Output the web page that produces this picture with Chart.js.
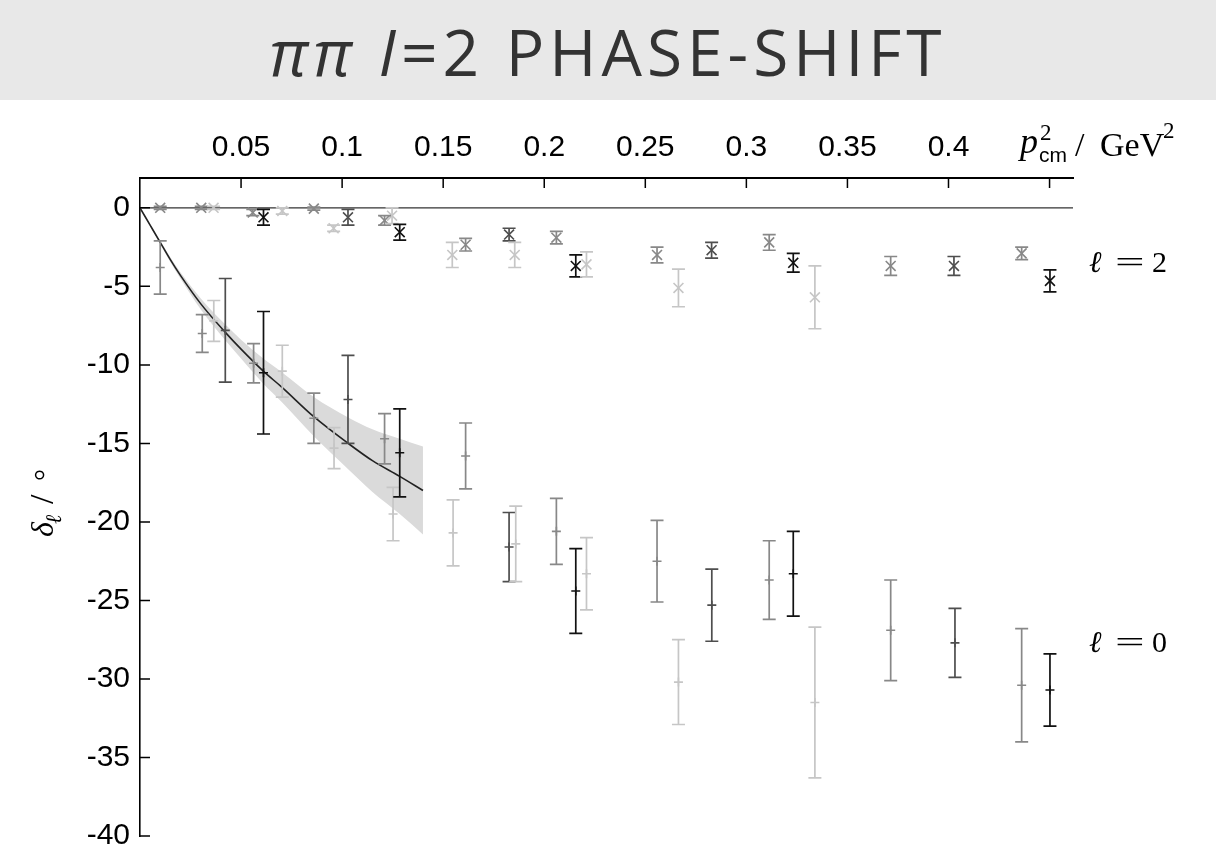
<!DOCTYPE html>
<html lang="en">
<head>
<meta charset="UTF-8">
<title>pi pi I=2 phase-shift</title>
<script src="https://cdn.jsdelivr.net/npm/chart.js"></script>
<style>
  html, body { margin: 0; padding: 0; background: #fff; }
  #page { position: relative; width: 1216px; height: 851px; overflow: hidden; }
  #title {
    position: absolute; left: 0; top: 0; width: 1216px; height: 100px;
    background: #e8e8e8; color: #333;
    font-family: 'Open Sans', sans-serif; font-size: 64px; letter-spacing: 5px;
    text-align: center; line-height: 104px; white-space: nowrap;
  }
  #wrap { position: absolute; left: 0; top: 100px; width: 1216px; height: 751px; }
</style>
</head>
<body>
<div id="page">
  <div id="title"><i>ππ</i> <i>I</i>=2 PHASE-SHIFT</div>
  <div id="wrap"><canvas id="phaseChart"></canvas></div>
</div>

<script>
// shades used for the different lattice ensembles
const shadeColors = ['#111111', '#4e4e4e', '#888888', '#c6c6c6'];

// l = 0 points: p_cm^2, delta, error, shade index
const l0P = [0.0100, 0.0308, 0.0365, 0.0422, 0.0562, 0.0611, 0.0704, 0.0860, 0.0960, 0.1029,
             0.1210, 0.1252, 0.1285, 0.1549, 0.1611, 0.1826, 0.1859, 0.2060, 0.2156, 0.2209,
             0.2558, 0.2664, 0.2829, 0.3113, 0.3232, 0.3339, 0.3714, 0.4032, 0.4362, 0.4502];
const l0D = [-3.8, -8.0, -7.2, -7.8, -9.9, -10.5, -10.4, -13.4, -15.3, -12.2,
             -14.7, -19.5, -15.6, -20.7, -15.8, -21.6, -21.4, -20.6, -24.4, -23.3,
             -22.5, -30.2, -25.3, -23.7, -23.3, -31.5, -26.9, -27.7, -30.4, -30.7];
const l0E = [1.7, 1.2, 1.3, 3.3, 1.25, 3.9, 1.65, 1.6, 1.3, 2.8,
             1.6, 1.7, 2.8, 2.1, 2.1, 2.2, 2.4, 2.1, 2.7, 2.3,
             2.6, 2.7, 2.3, 2.5, 2.7, 4.8, 3.2, 2.2, 3.6, 2.3];
const l0Shade = [2, 2, 3, 1, 2, 0, 3, 2, 3, 1,
                 2, 3, 0, 3, 2, 1, 3, 2, 0, 3,
                 2, 3, 1, 2, 0, 3, 2, 1, 2, 0];

// l = 2 points
const l2P = [0.0100, 0.0303, 0.0364, 0.0558, 0.0611, 0.0704, 0.0860, 0.0958, 0.1029, 0.1210,
             0.1247, 0.1285, 0.1545, 0.1611, 0.1826, 0.1854, 0.2060, 0.2156, 0.2209, 0.2558,
             0.2664, 0.2828, 0.3113, 0.3232, 0.3339, 0.3714, 0.4027, 0.4362, 0.4502];
const l2D = [0.0, 0.0, 0.0, -0.3, -0.6, -0.2, -0.05, -1.3, -0.6, -0.8,
             -0.5, -1.55, -3.0, -2.35, -1.7, -3.0, -1.9, -3.7, -3.6, -3.0,
             -5.1, -2.7, -2.2, -3.5, -5.7, -3.7, -3.7, -2.9, -4.65];
const l2E = [0.1, 0.1, 0.1, 0.2, 0.5, 0.2, 0.1, 0.2, 0.5, 0.3,
             0.5, 0.5, 0.8, 0.4, 0.4, 0.8, 0.4, 0.7, 0.8, 0.5,
             1.2, 0.5, 0.5, 0.6, 2.0, 0.6, 0.6, 0.4, 0.7];
const l2Shade = [2, 2, 3, 2, 0, 3, 2, 3, 1, 2,
                 3, 0, 3, 2, 1, 3, 2, 0, 3, 2,
                 3, 1, 2, 0, 3, 2, 1, 2, 0];

// fitted l = 0 curve and its error band
const fitP   = [0, 0.005, 0.01, 0.015, 0.02, 0.03, 0.042, 0.05, 0.061, 0.07, 0.086, 0.103, 0.115, 0.1285, 0.14];
const fitD   = [0, -1.1, -2.2, -3.3, -4.3, -6.1, -7.9, -9.0, -10.4, -11.4, -13.3, -15.0, -16.1, -17.1, -18.0];
const bandHi = [0, -1.05, -2.1, -3.15, -4.1, -5.75, -7.4, -8.4, -9.6, -10.45, -12.05, -13.35, -14.1, -14.7, -15.2];
const bandLo = [0, -1.15, -2.3, -3.45, -4.5, -6.45, -8.4, -9.6, -11.2, -12.35, -14.55, -16.65, -18.1, -19.5, -20.8];

// axes
const xTickValues = [0.05, 0.1, 0.15, 0.2, 0.25, 0.3, 0.35, 0.4, 0.45];
const xTickLabels = ['0.05', '0.1', '0.15', '0.2', '0.25', '0.3', '0.35', '0.4', ''];
const yTickValues = [0, -5, -10, -15, -20, -25, -30, -35, -40];
const yTickLabels = ['0', '-5', '-10', '-15', '-20', '-25', '-30', '-35', '-40'];
const xMin = 0, xMax = 0.4616, yMin = -40, yMax = 1.9;

function pts(xs, ys) {
    return xs.map((x, i) => ({ x: x, y: ys[i] }));
}

// vertical error bars with caps, drawn right after their dataset
const errorBarPlugin = {
    id: 'errorBars',
    afterDatasetDraw(chart, args) {
        const ds = chart.data.datasets[args.index];
        if (!ds.errors) return;
        const ctx = chart.ctx;
        const yScale = chart.scales.y;
        ctx.save();
        ctx.lineWidth = 1.7;
        args.meta.data.forEach((pt, i) => {
            const v = ds.data[i].y;
            const top = yScale.getPixelForValue(v + ds.errors[i]);
            const bot = yScale.getPixelForValue(v - ds.errors[i]);
            ctx.strokeStyle = ds.pointBorderColor[i];
            ctx.beginPath();
            ctx.moveTo(pt.x, top); ctx.lineTo(pt.x, bot);
            ctx.moveTo(pt.x - 6.5, top); ctx.lineTo(pt.x + 6.5, top);
            ctx.moveTo(pt.x - 6.5, bot); ctx.lineTo(pt.x + 6.5, bot);
            ctx.stroke();
        });
        ctx.restore();
    }
};

// zero line, inward ticks and the LaTeX-like labels
const decorPlugin = {
    id: 'decor',
    beforeDatasetsDraw(chart) {
        const ctx = chart.ctx, a = chart.chartArea;
        const y0 = chart.scales.y.getPixelForValue(0);
        ctx.save();
        ctx.strokeStyle = '#333';
        ctx.lineWidth = 1.2;
        ctx.beginPath();
        ctx.moveTo(a.left, y0); ctx.lineTo(a.right, y0);
        ctx.stroke();
        ctx.restore();
    },
    afterDraw(chart) {
        const ctx = chart.ctx, a = chart.chartArea;
        const xs = chart.scales.x, ys = chart.scales.y;
        ctx.save();
        ctx.strokeStyle = '#000';
        ctx.lineWidth = 1.5;
        ctx.beginPath();
        xTickValues.forEach(v => {
            const px = xs.getPixelForValue(v);
            ctx.moveTo(px, a.top); ctx.lineTo(px, a.top + 10);
        });
        yTickValues.forEach(v => {
            const py = ys.getPixelForValue(v);
            ctx.moveTo(a.left, py); ctx.lineTo(a.left + 10, py);
        });
        ctx.stroke();

        ctx.fillStyle = '#000';
        ctx.textBaseline = 'alphabetic';
        ctx.textAlign = 'left';

        // x axis title: p_cm^2 / GeV^2
        ctx.font = 'italic 36px "Liberation Serif", serif';
        ctx.fillText('p', 1020, 53);
        ctx.font = '23px "Liberation Serif", serif';
        ctx.fillText('2', 1040, 40);
        ctx.font = '21px "Liberation Sans", sans-serif';
        ctx.fillText('cm', 1039, 62);
        ctx.font = '34px "Liberation Serif", serif';
        ctx.fillText('/', 1075, 56);
        ctx.fillText('GeV', 1100, 56);
        ctx.font = '23px "Liberation Serif", serif';
        ctx.fillText('2', 1163, 38);

        // l = 2 and l = 0 labels
        [['2', 172], ['0', 552]].forEach(([d, by]) => {
            ctx.font = 'italic 30px "DejaVu Serif", serif';
            ctx.fillText('ℓ', 1089, by);
            ctx.font = '30px "Liberation Serif", serif';
            ctx.fillText(d, 1152, by);
            ctx.save();
            ctx.translate(1115, by);
            ctx.scale(1.75, 1);
            ctx.fillText('=', 0, 0);
            ctx.restore();
        });

        // y axis title: delta_l / degree (reads bottom to top)
        ctx.translate(53, 437);
        ctx.rotate(-Math.PI / 2);
        ctx.font = 'italic 32px "Liberation Serif", serif';
        ctx.fillText('δ', 0, 0);
        ctx.font = 'italic 22px "DejaVu Serif", serif';
        ctx.fillText('ℓ', 13, 8);
        ctx.font = '34px "Liberation Serif", serif';
        ctx.fillText('/', 33, 0);
        ctx.font = '30px "Liberation Serif", serif';
        ctx.fillText('°', 56, 2);
        ctx.restore();
    }
};

const ctx = document.getElementById('phaseChart').getContext('2d');

new Chart(ctx, {
    type: 'scatter',
    data: {
        datasets: [
            {
                data: pts(l2P, l2D),
                errors: l2E,
                pointStyle: 'crossRot',
                pointRadius: 7,
                pointBorderWidth: 1.6,
                pointBorderColor: l2Shade.map(s => shadeColors[s]),
                pointBackgroundColor: 'rgba(0,0,0,0)',
                order: 1
            },
            {
                data: pts(l0P, l0D),
                errors: l0E,
                pointStyle: 'cross',
                pointRadius: 4.5,
                pointBorderWidth: 1.6,
                pointBorderColor: l0Shade.map(s => shadeColors[s]),
                pointBackgroundColor: 'rgba(0,0,0,0)',
                order: 2
            },
            {
                data: pts(fitP, fitD),
                showLine: true,
                borderColor: '#222',
                borderWidth: 1.6,
                pointRadius: 0,
                cubicInterpolationMode: 'monotone',
                order: 5
            },
            {
                data: pts(fitP, bandHi),
                showLine: true,
                borderColor: 'rgba(0,0,0,0)',
                borderWidth: 0,
                pointRadius: 0,
                cubicInterpolationMode: 'monotone',
                fill: '+1',
                backgroundColor: '#dadada',
                order: 10
            },
            {
                data: pts(fitP, bandLo),
                showLine: true,
                borderColor: 'rgba(0,0,0,0)',
                borderWidth: 0,
                pointRadius: 0,
                cubicInterpolationMode: 'monotone',
                fill: false,
                order: 11
            }
        ]
    },
    options: {
        responsive: true,
        maintainAspectRatio: false,
        animation: false,
        events: [],
        layout: { padding: { left: 0, right: 143, top: 0, bottom: 15 } },
        plugins: { legend: { display: false }, tooltip: { enabled: false } },
        scales: {
            x: {
                type: 'linear',
                position: 'top',
                min: xMin,
                max: xMax,
                grid: { display: false, drawTicks: false },
                border: { display: true, color: '#000', width: 2 },
                ticks: {
                    stepSize: 0.05,
                    includeBounds: false,
                    autoSkip: false,
                    maxRotation: 0,
                    padding: 12,
                    color: '#000',
                    font: { family: '"Liberation Sans", Arial, sans-serif', size: 30 },
                    callback: (v) => {
                        const i = xTickValues.findIndex(t => Math.abs(t - v) < 1e-6);
                        return i < 0 ? '' : xTickLabels[i];
                    }
                },
                afterFit: (s) => { s.height = 78; s.paddingLeft = 0; s.paddingRight = 0; }
            },
            y: {
                type: 'linear',
                min: yMin,
                max: yMax,
                grid: { display: false, drawTicks: false },
                border: { display: true, color: '#000', width: 1.6 },
                ticks: {
                    stepSize: 5,
                    includeBounds: false,
                    autoSkip: false,
                    padding: 10,
                    color: '#000',
                    font: { family: '"Liberation Sans", Arial, sans-serif', size: 30 },
                    callback: (v) => {
                        const i = yTickValues.findIndex(t => Math.abs(t - v) < 1e-6);
                        return i < 0 ? '' : yTickLabels[i];
                    }
                },
                afterFit: (s) => { s.width = 140; s.paddingTop = 0; s.paddingBottom = 0; }
            }
        }
    },
    plugins: [errorBarPlugin, decorPlugin]
});
</script>
</body>
</html>
